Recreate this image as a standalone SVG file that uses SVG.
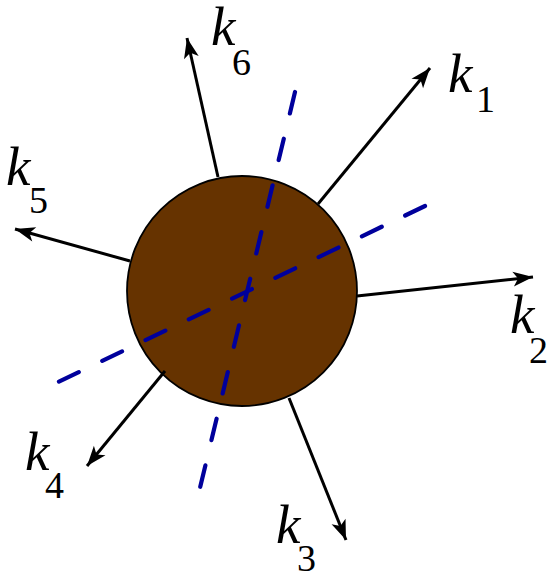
<svg xmlns="http://www.w3.org/2000/svg" width="554" height="575" viewBox="0 0 554 575">
<style>
.arrow{stroke:#000;stroke-width:3;fill:none;marker-end:url(#ah)}
.dash{stroke:#00009c;stroke-width:4.2;stroke-dasharray:22 26;stroke-linecap:round;fill:none}
.k{font-family:'Liberation Serif','Times New Roman','DejaVu Serif',serif;font-style:italic;font-size:55px;fill:#000}
.n{font-family:'Liberation Serif','Times New Roman','DejaVu Serif',serif;font-size:38px;fill:#000}
</style>
<defs>
<marker id="ah" markerUnits="userSpaceOnUse" viewBox="-22 -10 24 20" refX="0" refY="0" markerWidth="24" markerHeight="20" orient="auto">
<path d="M0,0 L-20,-7.5 L-15,0 L-20,7.5 Z" fill="#000"/>
</marker>
</defs>
<rect width="554" height="575" fill="#fff"/>
<g id="particle">
<circle cx="242" cy="291" r="115" fill="#663300" stroke="#000" stroke-width="1.8"/>
</g>
<g id="connectors">
<line class="arrow" x1="218" y1="177" x2="187" y2="38"/>
<line class="arrow" x1="130" y1="261" x2="15" y2="229"/>
<line class="arrow" x1="318" y1="204" x2="430" y2="68"/>
<line class="arrow" x1="357" y1="296" x2="533" y2="277"/>
<line class="arrow" x1="289" y1="398" x2="346" y2="540"/>
<line class="arrow" x1="165" y1="371" x2="87" y2="466"/>
<line class="dash" x1="425" y1="206" x2="54" y2="384"/>
<line class="dash" x1="295" y1="92" x2="199" y2="492"/>
</g>
<g id="label-k1"><text class="k" x="448" y="92">k</text><text class="n" x="476" y="112">1</text></g>
<g id="label-k2"><text class="k" x="510" y="333">k</text><text class="n" x="529" y="363">2</text></g>
<g id="label-k3"><text class="k" x="276" y="543">k</text><text class="n" x="297" y="571">3</text></g>
<g id="label-k4"><text class="k" x="25" y="470">k</text><text class="n" x="45" y="498">4</text></g>
<g id="label-k5"><text class="k" x="6" y="185">k</text><text class="n" x="29" y="213">5</text></g>
<g id="label-k6"><text class="k" x="211" y="45">k</text><text class="n" x="232" y="75">6</text></g>
</svg>
